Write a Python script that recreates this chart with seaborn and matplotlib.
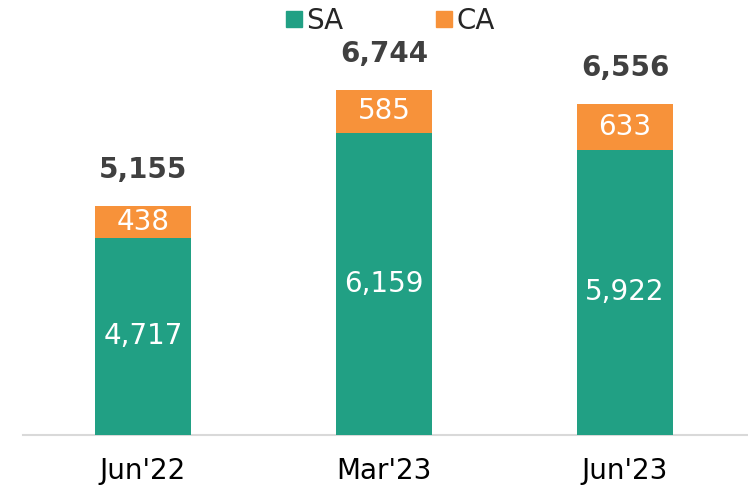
import matplotlib
matplotlib.use("Agg")
import matplotlib.pyplot as plt
from matplotlib.lines import Line2D
import seaborn as sns
import pandas as pd

periods = ["Jun'22", "Mar'23", "Jun'23"]
sa = [4717, 6159, 5922]
ca = [438, 585, 633]
totals = [5155, 6744, 6556]

GREEN = "#21a084"
ORANGE = "#f7923a"

sns.set_theme(style="white")
plt.rcParams["font.family"] = ["DejaVu Sans"]

df = pd.DataFrame({"period": periods, "SA": sa, "CA": ca, "Total": totals})

fig = plt.figure(figsize=(7.48, 4.92), dpi=100)
ax = fig.add_axes([23 / 748, 57 / 492, 725 / 748, 435 / 492])

ymin, ymax = 2011, 7978

sns.barplot(data=df, x="period", y="Total", color=ORANGE, width=0.40,
            saturation=1, ax=ax, zorder=2, linewidth=0)
sns.barplot(data=df, x="period", y="SA", color=GREEN, width=0.40,
            saturation=1, ax=ax, zorder=3, linewidth=0)

ax.set_ylim(ymin, ymax)
ax.set_xlim(-0.498, 2.51)

for i in range(len(periods)):
    ax.text(i, (ymin + sa[i]) / 2, f"{sa[i]:,}", ha="center", va="center",
            color="white", fontsize=20, zorder=5)
    ax.text(i, sa[i] + ca[i] / 2, f"{ca[i]:,}", ha="center", va="center",
            color="white", fontsize=20, zorder=5)
    ax.annotate(f"{totals[i]:,}", (i, totals[i]), xytext=(0, 26),
                textcoords="offset points", ha="center", va="center",
                color="#404040", fontsize=20, fontweight="bold")

for s in ["top", "right", "left"]:
    ax.spines[s].set_visible(False)
ax.spines["bottom"].set_color("#d9d9d9")
ax.spines["bottom"].set_linewidth(1.5)
ax.set_yticks([])
ax.set_xlabel("")
ax.set_ylabel("")
ax.tick_params(axis="x", length=0, pad=16, labelsize=20, labelcolor="black")

handles = [Line2D([], [], marker="s", linestyle="none", color=GREEN, markersize=12),
           Line2D([], [], marker="s", linestyle="none", color=ORANGE, markersize=12)]
fig.legend(handles, ["SA", "CA"], loc="center", bbox_to_anchor=(0.5214, 0.958),
           ncol=2, frameon=False, fontsize=20, columnspacing=3.3,
           handletextpad=0.15, handlelength=0.6, borderpad=0)

fig.savefig("out.png", dpi=100)
